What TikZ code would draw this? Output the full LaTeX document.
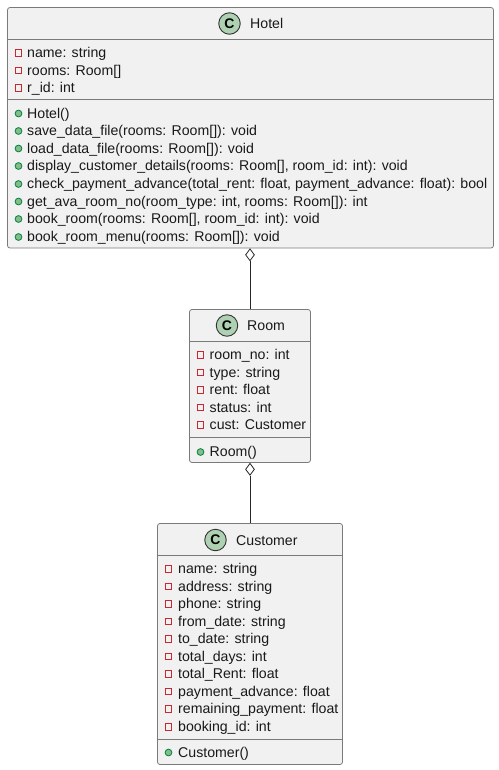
\documentclass[tikz,border=0pt]{standalone}
\usepackage{fontspec}
\setmainfont{Liberation Sans}
\usetikzlibrary{shapes.geometric}

\definecolor{boxfill}{HTML}{F1F1F1}
\definecolor{boxline}{HTML}{7A7A7A}
\definecolor{spotfill}{HTML}{ADD1B2}
\definecolor{privred}{HTML}{C82930}
\definecolor{pubgreen}{HTML}{84BE84}
\definecolor{publine}{HTML}{038048}

\tikzset{
  classbox/.style={draw=boxline, fill=boxfill, rounded corners=2.5bp, line width=0.8bp, inner sep=0pt},
  sepline/.style={draw=boxline, line width=0.8bp},
  spot/.style={circle, draw=black!80, fill=spotfill, line width=0.9bp, minimum size=21.5bp, inner sep=0pt, font=\fontsize{14}{14}\bfseries},
  title/.style={anchor=west, inner sep=0pt, text height=10bp, text depth=0.5bp, font=\fontsize{14.2}{16}\selectfont, text=black!90},
  member/.style={anchor=west, inner sep=0pt, text height=10bp, text depth=0.5bp, font=\fontsize{14.2}{16}\selectfont, text=black!90},
  privicon/.style={rectangle, draw=privred, fill=boxfill, line width=1bp, minimum size=6.8bp, inner sep=0pt},
  pubicon/.style={circle, draw=publine, fill=pubgreen, line width=0.8bp, minimum size=6.8bp, inner sep=0pt},
  aggr/.style={diamond, draw=black!85, fill=white, line width=0.8bp, minimum width=9bp, minimum height=12bp, inner sep=0pt},
  link/.style={draw=black!85, line width=0.9bp}
}

\begin{document}
\begin{tikzpicture}[x=1bp, y=-1bp]
  \useasboundingbox (0,0) rectangle (499,770);

  % hotel
  \node[classbox, minimum width=486bp, minimum height=240.5bp] (hotel) at (250.5,127.75) {};
  \node[spot] (hotelspot) at (229.5,23.5) {C};
  \node[title] (hoteltitle) at (250,24) {Hotel};
  \draw[sepline] (hotel.west |- 0,39.5) -- (hotel.east |- 0,39.5);
  \draw[sepline] (hotel.west |- 0,99.5) -- (hotel.east |- 0,99.5);
  \foreach \txt/\y [count=\i] in {name: string/53, rooms: Room[]/70.5, r\_id: int/88} {
    \node[privicon] (hotelficon\i) at (18.5,\y) {};
    \node[member] (hotelf\i) at (27,\y) {\txt};
  }
  \foreach \txt/\y [count=\i] in {
      Hotel()/113.5,
      save\_data\_file(rooms: Room[]): void/131,
      load\_data\_file(rooms: Room[]): void/148.5,
      {display\_customer\_details(rooms: Room[], room\_id: int): void}/166,
      {check\_payment\_advance(total\_rent: float, payment\_advance: float): bool}/184,
      {get\_ava\_room\_no(room\_type: int, rooms: Room[]): int}/201.5,
      {book\_room(rooms: Room[], room\_id: int): void}/219,
      book\_room\_menu(rooms: Room[]): void/237} {
    \node[pubicon] (hotelmicon\i) at (18.5,\y) {};
    \node[member] (hotelm\i) at (27,\y) {\txt};
  }

  % room
  \node[classbox, minimum width=121bp, minimum height=153bp] (room) at (250,386) {};
  \node[spot] (roomspot) at (227,325.5) {C};
  \node[title] (roomtitle) at (247,326) {Room};
  \draw[sepline] (room.west |- 0,341) -- (room.east |- 0,341);
  \draw[sepline] (room.west |- 0,437.5) -- (room.east |- 0,437.5);
  \foreach \txt/\y [count=\i] in {room\_no: int/355, type: string/372.5, rent: float/390, status: int/407.5, cust: Customer/425} {
    \node[privicon] (roomficon\i) at (200.5,\y) {};
    \node[member] (roomf\i) at (209.5,\y) {\txt};
  }
  \node[pubicon] (roommicon) at (200.5,452) {};
  \node[member] (roomm) at (209.5,452) {Room()};

  % customer
  \node[classbox, minimum width=185bp, minimum height=241bp] (customer) at (250,644) {};
  \node[spot] (customerspot) at (215.5,540) {C};
  \node[title] (customertitle) at (236,540.5) {Customer};
  \draw[sepline] (customer.west |- 0,555.5) -- (customer.east |- 0,555.5);
  \draw[sepline] (customer.west |- 0,739) -- (customer.east |- 0,739);
  \foreach \txt/\y [count=\i] in {name: string/569, address: string/586.5, phone: string/604,
      from\_date: string/621.5, to\_date: string/639, total\_days: int/656.5, total\_Rent: float/674,
      payment\_advance: float/691.5, remaining\_payment: float/709, booking\_id: int/727} {
    \node[privicon] (customerficon\i) at (168.5,\y) {};
    \node[member] (customerf\i) at (178,\y) {\txt};
  }
  \node[pubicon] (customermicon) at (168.5,752.5) {};
  \node[member] (customerm) at (178,752.5) {Customer()};

  % links
  \node[aggr, anchor=north] (hoteldia) at (hotel.south -| room.north) {};
  \draw[link] (hoteldia) -- (room.north);
  \node[aggr, anchor=north] (roomdia) at (room.south) {};
  \draw[link] (roomdia) -- (customer.north);
\end{tikzpicture}
\end{document}
